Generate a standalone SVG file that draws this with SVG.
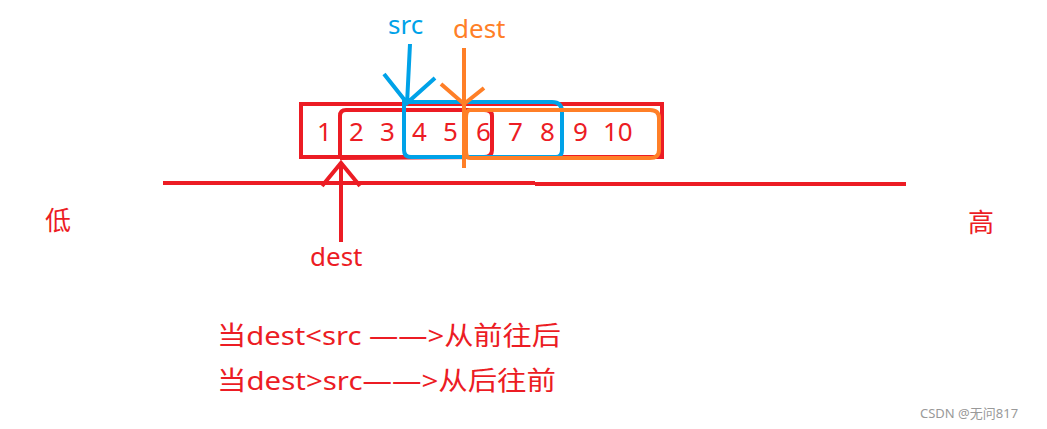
<svg xmlns="http://www.w3.org/2000/svg" width="1047" height="429" viewBox="0 0 1047 429">
<style>
text{font-family:"Microsoft YaHei","Noto Sans","Noto Sans CJK SC",sans-serif;font-size:26px;}
.r{fill:#ec1c24}.b{fill:#00a2e8}.o{fill:#ff7f27}
.sr{stroke:#ec1c24;fill:none;stroke-width:4}
.sb{stroke:#00a2e8;fill:none;stroke-width:4}
.so{stroke:#ff7f27;fill:none;stroke-width:4}
</style>
<rect width="1047" height="429" fill="#fff"/>
<g id="array">
<rect class="sr" x="301" y="104" width="361" height="53"/>
<text class="r" x="317" y="141">1</text>
<text class="r" x="349" y="141">2</text>
<text class="r" x="380" y="141">3</text>
<text class="r" x="412" y="141">4</text>
<text class="r" x="443" y="141">5</text>
<text class="r" x="476" y="141">6</text>
<text class="r" x="508" y="141">7</text>
<text class="r" x="540" y="141">8</text>
<text class="r" x="573" y="141">9</text>
<text class="r" x="603" y="141">10</text>
</g>
<g id="dest-range"><path class="sr" d="M340 158 L340 116 Q340 110 346 110 L484 110 Q492 110 492 116 L492 150 Q492 157 484 157 L340 158"/></g>
<g id="src-range"><path class="sb" d="M404 108 L404 150 Q404 157 411 157 L556 157 Q562 157 562 150 L562 112 Q562 102 552 102 L404 102 Z"/></g>
<g id="dest2-range"><path class="so" d="M470 110 L650 110 Q659 110 659 118 L659 150 Q659 158 650 158 L470 158 Q466 158 466 150 L466 118 Q466 110 470 110"/></g>
<g id="axis"><path class="sr" d="M163 183 L535 183 M535 184 L906 184"/></g>
<g id="connectors">
<path class="sb" d="M410 44 L407 104 M384 74 L407 103 L435 78"/>
<path class="so" d="M464 48 L464 168 M441 84 L464 104 L484 88"/>
<path class="sr" d="M341 242 L341 162 M322 186 L341 163 L360 186"/>
</g>
<text class="b" x="388" y="34">src</text>
<text class="o" x="453" y="38">dest</text>
<text class="r" x="310" y="266">dest</text>
<text class="r" x="45" y="230">低</text>
<text class="r" x="968" y="232">高</text>
<text class="r" x="217" y="345" textLength="344" lengthAdjust="spacingAndGlyphs">当dest&lt;src ——&gt;从前往后</text>
<text class="r" x="217" y="390" textLength="339" lengthAdjust="spacingAndGlyphs">当dest&gt;src——&gt;从后往前</text>
<text x="920" y="418" style="font-size:13px;fill:#999">CSDN @无问817</text>
</svg>
